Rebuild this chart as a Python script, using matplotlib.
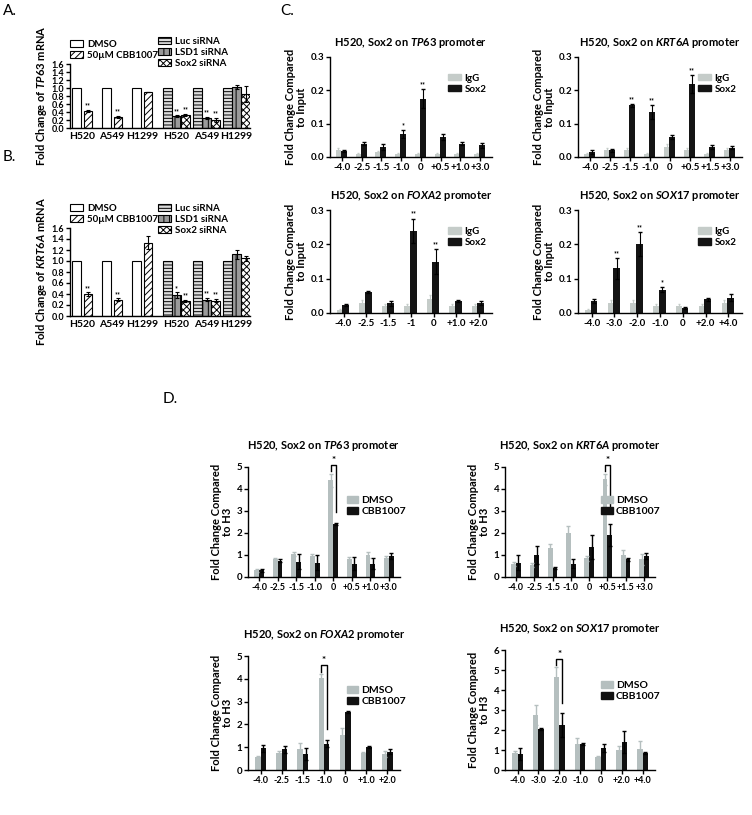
import matplotlib
matplotlib.use('Agg')
import matplotlib.pyplot as plt
from matplotlib.patches import Patch
import numpy as np

plt.rcParams['font.family'] = ['Lato', 'DejaVu Sans']
plt.rcParams['font.weight'] = 'bold'
plt.rcParams['axes.titleweight'] = 'bold'
plt.rcParams['axes.labelweight'] = 'bold'
plt.rcParams['mathtext.fontset'] = 'custom'
plt.rcParams['mathtext.it'] = 'Lato:italic:bold'
plt.rcParams['mathtext.rm'] = 'Lato:bold'
plt.rcParams['axes.linewidth'] = 1.0
plt.rcParams['hatch.linewidth'] = 0.7

# --- A / B : mRNA ---
cell_lines = ['H520', 'A549', 'H1299']
tp63_cbb = [0.42, 0.28, 0.90]
tp63_cbb_err = [0.03, 0.02, 0.01]
tp63_lsd1 = [0.30, 0.25, 1.03]
tp63_lsd1_err = [0.02, 0.03, 0.05]
tp63_sox2 = [0.32, 0.20, 0.85]
tp63_sox2_err = [0.03, 0.05, 0.20]
tp63_stars = [['**', '**', ''], ['**', '**', ''], ['**', '**', '']]

krt6a_cbb = [0.40, 0.30, 1.33]
krt6a_cbb_err = [0.03, 0.02, 0.12]
krt6a_lsd1 = [0.38, 0.30, 1.12]
krt6a_lsd1_err = [0.05, 0.03, 0.08]
krt6a_sox2 = [0.28, 0.28, 1.05]
krt6a_sox2_err = [0.02, 0.03, 0.05]
krt6a_stars = [['**', '**', ''], ['*', '**', ''], ['**', '**', '']]

# --- C : ChIP vs input ---
c_tp63_pos = ['-4.0', '-2.5', '-1.5', '-1.0', '0', '+0.5', '+1.0', '+3.0']
c_tp63_igg = [0.02, 0.01, 0.015, 0.01, 0.01, 0.01, 0.01, 0.01]
c_tp63_sox2 = [0.018, 0.04, 0.03, 0.07, 0.175, 0.06, 0.04, 0.035]
c_tp63_err = [0.004, 0.005, 0.01, 0.012, 0.028, 0.01, 0.005, 0.008]
c_tp63_stars = ['', '', '', '*', '**', '', '', '']

c_krt_pos = ['-4.0', '-2.5', '-1.5', '-1.0', '0', '+0.5', '+1.5', '+3.0']
c_krt_igg = [0.01, 0.02, 0.02, 0.01, 0.03, 0.02, 0.01, 0.02]
c_krt_sox2 = [0.015, 0.02, 0.155, 0.135, 0.06, 0.22, 0.03, 0.028]
c_krt_err = [0.005, 0.005, 0.005, 0.022, 0.005, 0.027, 0.005, 0.005]
c_krt_stars = ['', '', '**', '**', '', '**', '', '']

c_foxa_pos = ['-4.0', '-2.5', '-1.5', '-1', '0', '+1.0', '+2.0']
c_foxa_igg = [0.01, 0.03, 0.02, 0.02, 0.04, 0.02, 0.02]
c_foxa_sox2 = [0.022, 0.06, 0.028, 0.24, 0.15, 0.035, 0.03]
c_foxa_err = [0.003, 0.003, 0.007, 0.035, 0.035, 0.003, 0.006]
c_foxa_stars = ['', '', '', '**', '**', '', '']

c_sox17_pos = ['-4.0', '-3.0', '-2.0', '-1.0', '0', '+2.0', '+4.0']
c_sox17_igg = [0.01, 0.03, 0.03, 0.02, 0.02, 0.02, 0.03]
c_sox17_sox2 = [0.035, 0.13, 0.20, 0.068, 0.015, 0.04, 0.045]
c_sox17_err = [0.005, 0.03, 0.035, 0.008, 0.003, 0.005, 0.01]
c_sox17_stars = ['', '**', '**', '*', '', '', '']

# --- D : ChIP vs H3 ---
d_tp63_dmso = [0.3, 0.8, 1.05, 0.95, 4.4, 0.8, 1.0, 0.85]
d_tp63_dmso_err = [0.05, 0.05, 0.1, 0.1, 0.3, 0.1, 0.15, 0.1]
d_tp63_cbb = [0.3, 0.75, 0.7, 0.65, 2.4, 0.6, 0.6, 0.95]
d_tp63_cbb_err = [0.05, 0.05, 0.35, 0.35, 0.05, 0.3, 0.25, 0.15]

d_krt_dmso = [0.6, 0.55, 1.3, 2.0, 0.85, 4.45, 1.0, 0.8]
d_krt_dmso_err = [0.1, 0.1, 0.2, 0.3, 0.1, 0.25, 0.25, 0.25]
d_krt_cbb = [0.65, 1.0, 0.4, 0.6, 1.35, 1.9, 0.8, 0.95]
d_krt_cbb_err = [0.35, 0.4, 0.05, 0.2, 0.55, 0.5, 0.05, 0.15]

d_foxa_pos = ['-4.0', '-2.5', '-1.5', '-1.0', '0', '+1.0', '+2.0']
d_foxa_dmso = [0.55, 0.75, 0.9, 4.05, 1.55, 0.75, 0.7]
d_foxa_dmso_err = [0.05, 0.1, 0.3, 0.15, 0.3, 0.05, 0.15]
d_foxa_cbb = [0.95, 0.9, 0.7, 1.15, 2.55, 1.0, 0.8]
d_foxa_cbb_err = [0.15, 0.15, 0.25, 0.15, 0.05, 0.05, 0.1]

d_sox17_dmso = [0.85, 2.75, 4.65, 1.3, 0.65, 1.0, 1.05]
d_sox17_dmso_err = [0.1, 0.5, 0.5, 0.3, 0.05, 0.2, 0.4]
d_sox17_cbb = [0.8, 2.05, 2.25, 1.3, 1.1, 1.4, 0.85]
d_sox17_cbb_err = [0.3, 0.05, 0.6, 0.05, 0.2, 0.55, 0.05]

W, H = 752, 815
IGG = '#c5ccc9'
DMSO = '#b5bfbf'


def box(l, t, r, b):
    return [l / W, 1 - b / H, (r - l) / W, (b - t) / H]


def style(ax, size=7):
    ax.spines['top'].set_visible(False)
    ax.spines['right'].set_visible(False)
    ax.tick_params(direction='out', length=3, width=1, labelsize=size, pad=1)
    for t in ax.get_xticklabels() + ax.get_yticklabels():
        t.set_fontweight('bold')


def mrna_panel(ax, gene, cbb, cbb_err, lsd1, lsd1_err, sox2, sox2_err, stars):
    x = np.arange(3)
    xs = x + 3.15
    ones = [1.0, 1.0, 1.0]
    kw = dict(edgecolor='k', linewidth=0.8)
    ekw = dict(elinewidth=0.8, capsize=1.5, capthick=0.8)
    b1 = ax.bar(x - 0.19, ones, 0.28, color='white', **kw)
    b2 = ax.bar(x + 0.19, cbb, 0.28, color='white', hatch='/////',
                yerr=cbb_err, error_kw=ekw, **kw)
    b3 = ax.bar(xs - 0.3, ones, 0.28, color='#dcdcdc', hatch='-----', **kw)
    b4 = ax.bar(xs, lsd1, 0.28, color='#9a9a9a', hatch='|||', yerr=lsd1_err,
                error_kw=ekw, **kw)
    b5 = ax.bar(xs + 0.3, sox2, 0.28, color='white', hatch='xxxxx',
                yerr=sox2_err, error_kw=ekw, **kw)
    for i in range(3):
        ax.text(x[i] + 0.19, cbb[i] + cbb_err[i] + 0.01, stars[0][i],
                ha='center', va='bottom', fontsize=5)
        ax.text(xs[i], lsd1[i] + lsd1_err[i] + 0.01, stars[1][i],
                ha='center', va='bottom', fontsize=5)
        ax.text(xs[i] + 0.3, sox2[i] + sox2_err[i] + 0.01, stars[2][i],
                ha='center', va='bottom', fontsize=5)
    ax.set_ylim(0, 1.6)
    ax.set_yticks(np.arange(0, 1.61, 0.2))
    ax.set_yticklabels(['%.1f' % v for v in np.arange(0, 1.61, 0.2)])
    ax.set_xlim(-0.4, 5.6)
    ax.set_xticks(list(x) + list(xs))
    ax.set_xticklabels(cell_lines + cell_lines)
    style(ax, 6.5)
    ax.tick_params(axis='x', length=0, pad=3, labelsize=7.5)
    ax.set_ylabel('Fold Change of $\\it{%s}$ mRNA' % gene, fontsize=8, labelpad=2)
    leg1 = ax.legend([b1, b2], ['DMSO', '50\u00b5M CBB1007'], loc='lower left',
                     bbox_to_anchor=(-0.02, 1.0), frameon=False, fontsize=7,
                     handlelength=1.3, handleheight=0.7, borderaxespad=0,
                     labelspacing=0.2, handletextpad=0.4)
    ax.add_artist(leg1)
    ax.legend([b3, b4, b5], ['Luc siRNA', 'LSD1 siRNA', 'Sox2 siRNA'],
              loc='lower left', bbox_to_anchor=(0.47, 0.88), frameon=False,
              fontsize=7, handlelength=1.3, handleheight=0.7, borderaxespad=0,
              labelspacing=0.2, handletextpad=0.4)


def chip_panel(ax, gene, pos, igg, sox2, err, stars):
    x = np.arange(len(pos))
    ax.bar(x - 0.17, igg, 0.26, color=IGG, yerr=[v * 0.3 for v in igg],
           ecolor=IGG, error_kw=dict(elinewidth=0.8, capsize=1))
    ax.bar(x + 0.1, sox2, 0.3, color='#141414', yerr=err, ecolor='k',
           error_kw=dict(elinewidth=0.8, capsize=1.5))
    for i in range(len(pos)):
        ax.text(x[i] + 0.1, sox2[i] + err[i] + 0.003, stars[i], ha='center',
                va='bottom', fontsize=5)
    ax.set_ylim(0, 0.3)
    ax.set_yticks([0, 0.1, 0.2, 0.3])
    ax.set_yticklabels(['0.0', '0.1', '0.2', '0.3'])
    ax.set_xlim(-0.6, len(pos) - 0.4)
    ax.set_xticks(x)
    ax.set_xticklabels(pos)
    style(ax, 7)
    ax.set_title('H520, Sox2 on $\\it{%s}$ promoter' % gene, fontsize=8, pad=8)
    ax.set_ylabel('Fold Change Compared\nto Input', fontsize=8,
                  labelpad=3, linespacing=0.9)
    ax.legend(handles=[Patch(color=IGG), Patch(color='#141414')],
              labels=['IgG', 'Sox2'], loc='upper right',
              bbox_to_anchor=(1.02, 0.92), frameon=False, fontsize=7,
              handlelength=1.3, handleheight=0.6, labelspacing=0.2,
              handletextpad=0.4)


def h3_panel(ax, gene, pos, dmso, dmso_err, cbb, cbb_err, sig, ymax):
    x = np.arange(len(pos))
    ax.bar(x - 0.13, dmso, 0.26, color=DMSO, yerr=dmso_err, ecolor=DMSO,
           error_kw=dict(elinewidth=1, capsize=1.5))
    ax.bar(x + 0.13, cbb, 0.26, color='#111111', yerr=cbb_err, ecolor='k',
           error_kw=dict(elinewidth=1, capsize=1.5))
    x1, x2 = x[sig] - 0.13, x[sig] + 0.13
    top = dmso[sig] + dmso_err[sig] + 0.4
    ax.plot([x1, x1, x2, x2],
            [dmso[sig] + dmso_err[sig] + 0.1, top, top,
             cbb[sig] + cbb_err[sig] + 0.5],
            color='k', lw=1, clip_on=False)
    ax.text(x[sig], top, '*', ha='center', va='bottom', fontsize=7)
    ax.set_ylim(0, ymax)
    ax.set_yticks(range(ymax + 1))
    ax.set_xlim(-0.6, len(pos) - 0.4)
    ax.set_xticks(x)
    ax.set_xticklabels(pos)
    style(ax, 7)
    ax.tick_params(axis='x', labelsize=6.5)
    ax.set_title('H520, Sox2 on $\\it{%s}$ promoter' % gene, fontsize=8, pad=13)
    ax.set_ylabel('Fold Change Compared\nto H3', fontsize=8, labelpad=3,
                  linespacing=0.9)
    ax.legend(handles=[Patch(color=DMSO), Patch(color='#111111')],
              labels=['DMSO', 'CBB1007'], loc='upper right',
              bbox_to_anchor=(1.1, 0.82), frameon=False, fontsize=7.5,
              handlelength=1.1, handleheight=0.6, labelspacing=0.2,
              handletextpad=0.3)


fig = plt.figure(figsize=(W / 100, H / 100), dpi=100)

axA = fig.add_axes(box(70, 64, 250, 128))
mrna_panel(axA, 'TP63', tp63_cbb, tp63_cbb_err, tp63_lsd1, tp63_lsd1_err,
           tp63_sox2, tp63_sox2_err, tp63_stars)
axB = fig.add_axes(box(70, 228, 250, 316))
mrna_panel(axB, 'KRT6A', krt6a_cbb, krt6a_cbb_err, krt6a_lsd1, krt6a_lsd1_err,
           krt6a_sox2, krt6a_sox2_err, krt6a_stars)

ax = fig.add_axes(box(330, 57, 492, 157))
chip_panel(ax, 'TP63', c_tp63_pos, c_tp63_igg, c_tp63_sox2, c_tp63_err, c_tp63_stars)
ax = fig.add_axes(box(578, 57, 742, 157))
chip_panel(ax, 'KRT6A', c_krt_pos, c_krt_igg, c_krt_sox2, c_krt_err, c_krt_stars)
ax = fig.add_axes(box(330, 210, 492, 313))
chip_panel(ax, 'FOXA2', c_foxa_pos, c_foxa_igg, c_foxa_sox2, c_foxa_err, c_foxa_stars)
ax = fig.add_axes(box(578, 210, 742, 313))
chip_panel(ax, 'SOX17', c_sox17_pos, c_sox17_igg, c_sox17_sox2, c_sox17_err,
           c_sox17_stars)

ax = fig.add_axes(box(248, 467, 400, 577))
h3_panel(ax, 'TP63', c_tp63_pos, d_tp63_dmso, d_tp63_dmso_err, d_tp63_cbb,
         d_tp63_cbb_err, 4, 5)
ax = fig.add_axes(box(505, 467, 655, 577))
h3_panel(ax, 'KRT6A', c_krt_pos, d_krt_dmso, d_krt_dmso_err, d_krt_cbb,
         d_krt_cbb_err, 5, 5)
ax = fig.add_axes(box(248, 656, 400, 770))
h3_panel(ax, 'FOXA2', d_foxa_pos, d_foxa_dmso, d_foxa_dmso_err, d_foxa_cbb,
         d_foxa_cbb_err, 3, 5)
ax = fig.add_axes(box(505, 650, 655, 770))
h3_panel(ax, 'SOX17', c_sox17_pos, d_sox17_dmso, d_sox17_dmso_err, d_sox17_cbb,
         d_sox17_cbb_err, 2, 6)

for lab, (px, py) in {'A.': (3, 4), 'B.': (3, 150), 'C.': (280, 4),
                      'D.': (163, 392)}.items():
    fig.text(px / W, 1 - py / H, lab, fontsize=11, fontweight='normal',
             va='top', ha='left')

fig.savefig('out.png', dpi=100)
